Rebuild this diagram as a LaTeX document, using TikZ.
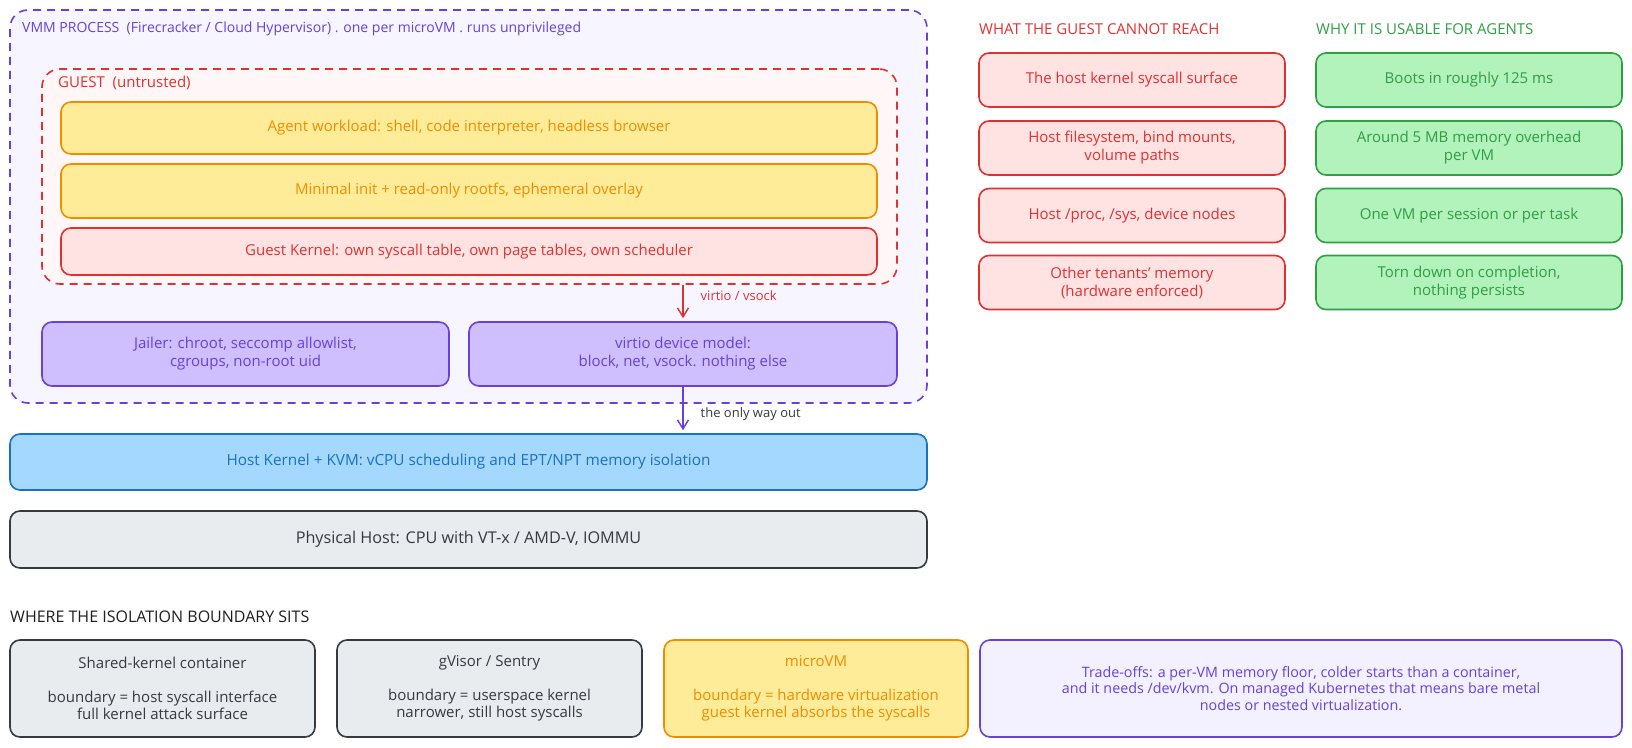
\documentclass[tikz,border=0pt]{standalone}
\usepackage{fontspec}
\setmainfont{Open Sans}
\usetikzlibrary{calc,arrows.meta}
\definecolor{vm-violet}{HTML}{6741D9}
\definecolor{vm-bg}{HTML}{F7F5FF}
\definecolor{vm-fill}{HTML}{D0BFFF}
\definecolor{vm-pale}{HTML}{F3F0FF}
\definecolor{gst-red}{HTML}{E03131}
\definecolor{gst-bg}{HTML}{FFF6F7}
\definecolor{gst-fill}{HTML}{FFE3E3}
\definecolor{wl-fill}{HTML}{FFEC99}
\definecolor{wl-line}{HTML}{F08C00}
\definecolor{hk-fill}{HTML}{A5D8FF}
\definecolor{hk-line}{HTML}{1971C2}
\definecolor{ph-fill}{HTML}{E9ECEF}
\definecolor{ph-line}{HTML}{343A40}
\definecolor{ok-fill}{HTML}{B2F2BB}
\definecolor{ok-line}{HTML}{2F9E44}
\definecolor{ink}{HTML}{1E1E1E}
\tikzset{
    box/.style={draw, rounded corners=10pt, line width=1.6pt, align=center, inner sep=0pt,
        font=\fontsize{15}{18}\selectfont},
    zone/.style={draw, rounded corners=18pt, line width=1.6pt, dash pattern=on 8pt off 6pt, inner sep=0pt},
    heading/.style={anchor=west, inner sep=0pt, font=\fontsize{15}{18}\selectfont},
    yellowbox/.style={box, fill=wl-fill, draw=wl-line, text=wl-line},
    redbox/.style={box, fill=gst-fill, draw=gst-red, text=gst-red},
    violetbox/.style={box, fill=vm-fill, draw=vm-violet, text=vm-violet},
    greenbox/.style={box, fill=ok-fill, draw=ok-line, text=ok-line},
    graybox/.style={box, fill=ph-fill, draw=ph-line, text=ph-line},
    flow/.style={line width=1.4pt, -{Straight Barb[length=9pt,width=11pt]}, shorten >=3pt},
    tag/.style={anchor=west, inner sep=0pt, font=\fontsize{13}{15}\selectfont}
}

\begin{document}
\begin{tikzpicture}[x=1pt, y=-1pt]
    \useasboundingbox (0,0) rectangle (1632,747);
    % VMM process with the guest inside
    \node[zone, draw=vm-violet, fill=vm-bg, minimum width=917pt, minimum height=393pt] (vmm) at (468.5,206.5) {};
    \node[heading, text=vm-violet, font=\fontsize{14}{17}\selectfont] (vmmtitle) at (22,29) {VMM PROCESS\ \ (Firecracker / Cloud Hypervisor) . one per microVM . runs unprivileged};
    \node[zone, draw=gst-red, fill=gst-bg, minimum width=855pt, minimum height=215pt] (guest) at (469.5,176.5) {};
    \node[heading, text=gst-red] (guesttitle) at (58,83) {GUEST\ \ (untrusted)};
    \node[yellowbox, minimum width=816pt, minimum height=52pt] (workload) at (469,128) {Agent workload: shell, code interpreter, headless browser};
    \node[yellowbox, minimum width=816pt, minimum height=54pt] (init) at (469,191) {Minimal init + read-only rootfs, ephemeral overlay};
    \node[redbox, minimum width=816pt, minimum height=47pt] (gkernel) at (469,251.5) {Guest Kernel: own syscall table, own page tables, own scheduler};
    \node[violetbox, minimum width=407pt, minimum height=64pt] (jailer) at (245.5,354) {Jailer: chroot, seccomp allowlist,\\cgroups, non-root uid};
    \node[violetbox, minimum width=428pt, minimum height=64pt] (virtio) at (683,354) {virtio device model:\\block, net, vsock. nothing else};
    % host layers
    \node[box, fill=hk-fill, draw=hk-line, text=hk-line, font=\fontsize{15.3}{18}\selectfont, minimum width=917pt, minimum height=56pt] (hostk) at (468.5,462) {Host Kernel + KVM: vCPU scheduling and EPT/NPT memory isolation};
    \node[graybox, font=\fontsize{16.2}{18}\selectfont, minimum width=917pt, minimum height=57pt] (phys) at (468.5,539.5) {Physical Host: CPU with VT-x / AMD-V, IOMMU};
    % the two ways down
    \draw[flow, gst-red] (guest.south -| virtio.north) -- (virtio.north)
        node[tag, midway, xshift=17pt, yshift=7pt, text=gst-red] {virtio / vsock};
    \draw[flow, vm-violet] (virtio.south) -- (virtio.south |- hostk.north)
        node[tag, midway, xshift=17pt, yshift=-4pt, text=ph-line] {the only way out};
    % side columns
    \node[heading, text=gst-red] (reachtitle) at (979,29) {WHAT THE GUEST CANNOT REACH};
    \node[heading, text=ok-line] (usabletitle) at (1316,29) {WHY IT IS USABLE FOR AGENTS};
    \foreach \i/\y/\txt in {1/80/{The host kernel syscall surface}, 2/148/{Host filesystem, bind mounts,\\volume paths},
        3/215.5/{Host /proc, /sys, device nodes}, 4/282.5/{Other tenants' memory\\(hardware enforced)}}
        \node[redbox, minimum width=306pt, minimum height=54pt] (reach\i) at (1132,\y) {\txt};
    \foreach \i/\y/\txt in {1/80/{Boots in roughly 125 ms}, 2/148/{Around 5 MB memory overhead\\per VM},
        3/215.5/{One VM per session or per task}, 4/282.5/{Torn down on completion,\\nothing persists}}
        \node[greenbox, minimum width=306pt, minimum height=54pt] (usable\i) at (1469,\y) {\txt};
    % comparison row
    \node[heading, text=ink, font=\fontsize{16}{18}\selectfont] (boundtitle) at (10,617) {WHERE THE ISOLATION BOUNDARY SITS};
    \node[graybox, font=\fontsize{15}{17}\selectfont, minimum width=305pt, minimum height=97pt] (cmp1) at (162.5,688.5) {Shared-kernel container\\[17pt]boundary = host syscall interface\\full kernel attack surface};
    \node[graybox, font=\fontsize{15}{17}\selectfont, minimum width=305pt, minimum height=97pt] (cmp2) at (489.5,688.5) {gVisor / Sentry\\[17pt]boundary = userspace kernel\\narrower, still host syscalls};
    \node[yellowbox, font=\fontsize{15}{17}\selectfont, minimum width=304pt, minimum height=97pt] (cmp3) at (816,688.5) {microVM\\[17pt]boundary = hardware virtualization\\guest kernel absorbs the syscalls};
    \node[box, fill=vm-pale, draw=vm-violet, text=vm-violet, font=\fontsize{14.3}{16.5}\selectfont, minimum width=642pt, minimum height=97pt] (tradeoffs) at (1301,688.5) {Trade-offs: a per-VM memory floor, colder starts than a container,\\and it needs /dev/kvm. On managed Kubernetes that means bare metal\\nodes or nested virtualization.};
\end{tikzpicture}
\end{document}
